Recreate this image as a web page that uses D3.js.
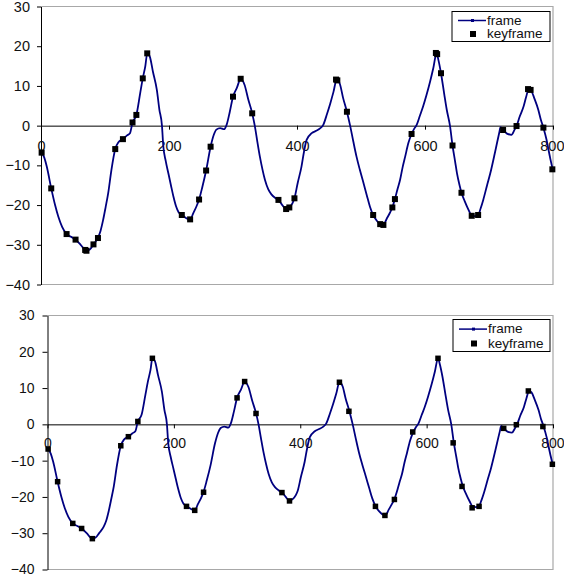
<!DOCTYPE html>
<html>
<head>
<meta charset="utf-8">
<script src="https://cdn.jsdelivr.net/npm/d3@7"></script>
<style>
  body { margin: 0; background: #fff; }
  svg { display: block; }
  text { font-family: "Liberation Sans", Arial, sans-serif; fill: #111; }
</style>
</head>
<body>
<div id="vis"></div>
<script>
var width = 564;
var height = 579;

// frame series
var frameX = [0, 5, 9, 16, 22, 27, 33, 40, 47, 54, 62, 70, 76, 82, 89, 93, 97, 101, 105, 110,
  116, 121, 128, 134, 139, 143, 149, 155, 159, 163, 166, 170, 175, 181, 185, 189, 191, 195, 199, 203,
  207, 211, 215, 220, 226, 233, 238, 243, 247, 252, 258, 265, 270, 274, 280, 286, 290, 295, 300, 306,
  312, 318, 324, 330, 334, 338, 342, 346, 350, 355, 360, 366, 371, 377, 383, 388, 393, 396, 401, 407,
  411, 415, 423, 430, 436, 441, 447, 452, 457, 462, 467, 472, 478, 483, 488, 493, 498, 504, 509, 514,
  519, 525, 530, 535, 540, 545, 549, 553, 557, 561, 565, 569, 574, 579, 583, 587, 592, 597, 602, 608,
  613, 618, 621, 625, 630, 634, 639, 643, 647, 650, 654, 657, 662, 668, 673, 678, 683, 687, 691, 697,
  702, 709, 713, 716, 718, 722, 728, 735, 740, 743, 748, 754, 758, 762, 766, 771, 777, 781, 785, 790,
  793, 796, 800];
var frameY = [-6.5, -8, -10.3, -15.8, -20, -22.9, -25.5, -27.3, -28, -28.7, -30, -31.4, -31.2, -29.9, -28.2, -26.5, -23.8, -20.5, -17, -11.2,
  -5.9, -4.2, -3.4, -2.5, -1.9, 0.8, 2.7, 8.2, 11.9, 15, 18.2, 17.4, 13.5, 9, 4, 0, -5, -9, -12, -15,
  -17.9, -20.3, -21.8, -22.5, -23.2, -23.7, -22, -20.3, -18.6, -15.5, -11.3, -5.3, -2.3, -1, -0.6, -0.9, 0.2, 3.5, 7.3, 9.5,
  11.8, 10.3, 6.5, 3.1, 0, -4, -7.8, -11, -13.7, -16, -17.3, -18.2, -18.7, -20, -21, -20.6, -19.5, -18.3, -14.5, -10.3,
  -6.5, -3.6, -1.9, -1.3, -0.7, 0.2, 3, 5.6, 8.5, 11.6, 10.5, 7, 3.5, 0, -4, -7.8, -11, -14.5, -17.5, -20.4,
  -22.5, -24, -24.8, -25, -23.5, -22, -20.6, -18.5, -16, -13.7, -10.5, -7.8, -4.4, -2.1, -0.8, 0.2, 2.5, 4.8, 7.5, 11.1,
  14.5, 18.2, 16.5, 13.2, 8, 4, 0, -5, -9, -12, -15, -16.9, -19, -21.2, -22.7, -22.8, -22.5, -20.8, -18.7, -15,
  -12, -7, -4, -1.8, -0.4, -1.1, -2, -2.3, -1, -0.1, 2.3, 4.8, 7.2, 9.2, 8.8, 6.8, 4, 1.5, -0.5, -3.6,
  -6.1, -8.5, -11.3];

// keyframes, upper chart
var keyTopX = [1, 16, 40, 54, 69, 71, 82, 89, 116, 128, 143, 149, 159, 166, 220, 233, 247, 258, 265, 300,
  312, 330, 371, 383, 388, 396, 461, 463, 478, 519, 530, 535, 549, 553, 579, 617, 619, 625, 643, 657,
  673, 683, 722, 743, 761, 765, 785, 799];
var keyTopY = [-6.8, -15.8, -27.3, -28.7, -31.3, -31.5, -29.9, -28.3, -5.9, -3.4, 0.8, 2.7, 11.9, 18.2, -22.5, -23.6, -18.6, -11.3, -5.3, 7.3,
  11.8, 3.1, -18.7, -21, -20.6, -18.3, 11.6, 11.4, 3.5, -22.5, -24.8, -25, -20.6, -18.5, -2.1, 18.3, 18.0, 13.2, -5, -16.9,
  -22.7, -22.5, -1.1, -0.1, 9.2, 9.0, -0.5, -11];

// keyframes, lower chart
var keyBotX = [1, 16, 40, 54, 71, 116, 128, 143, 166, 220, 233, 247, 300, 312, 330, 371, 383, 462, 477, 519,
  534, 549, 578, 618, 642, 656, 672, 683, 722, 742, 761, 784, 799];
var keyBotY = [-6.8, -15.8, -27.3, -28.7, -31.5, -5.9, -3.4, 0.8, 18.2, -22.6, -23.7, -18.7, 7.3, 11.8, 3.0, -18.8, -21.1, 11.6, 3.6, -22.6,
  -25.1, -20.7, -2.1, 18.2, -5.1, -17.1, -23, -22.6, -1.1, -0.1, 9.2, -0.6, -11];

var xTicks = [0, 200, 400, 600, 800];
var yTicks = [-40, -30, -20, -10, 0, 10, 20, 30];
var seriesNames = ["frame", "keyframe"];

var svg = d3.select("#vis").append("svg")
    .attr("width", width)
    .attr("height", height);

function drawChart(cfg, keyX, keyY) {
    var g = svg.append("g");

    var xscale = d3.scaleLinear().domain([0, 800]).range([cfg.left, cfg.right]);
    var yscale = d3.scaleLinear().domain([-40, 30]).range([cfg.bottom, cfg.top]);

    // grey plot border (top, right, bottom)
    g.append("path")
        .attr("d", "M" + cfg.left + "," + cfg.top + "H" + cfg.right + "V" + cfg.bottom + "H" + cfg.left)
        .attr("fill", "none")
        .attr("stroke", "#a8a8a8")
        .attr("stroke-width", 1.2);

    // y axis
    var y_axis = d3.axisLeft(yscale)
        .tickValues(yTicks)
        .tickSize(cfg.ytick)
        .tickSizeOuter(0)
        .tickPadding(cfg.ypad);
    var ya = g.append("g")
        .attr("transform", "translate(" + cfg.left + ",0)")
        .call(y_axis);
    ya.selectAll("text").style("font-size", cfg.font + "px");

    // x axis through zero
    var x_axis = d3.axisBottom(xscale)
        .tickValues(xTicks)
        .tickSize(4)
        .tickSizeOuter(0)
        .tickPadding(cfg.xpad);
    var xa = g.append("g")
        .attr("transform", "translate(0," + yscale(0) + ")")
        .call(x_axis);
    xa.selectAll("text").style("font-size", cfg.font + "px");
    // last label sits against the right edge, as in the original
    xa.selectAll(".tick text").filter(function(d){ return d === 800; })
        .attr("text-anchor", "end").attr("x", 11);
    g.selectAll(".domain, .tick line").attr("stroke", "#000");

    // frame line
    var line = d3.line()
        .x(function(d){ return xscale(d[0]); })
        .y(function(d){ return yscale(d[1]); })
        .curve(d3.curveMonotoneX);
    var pts = frameX.map(function(x, i){ return [x, frameY[i]]; });
    g.append("path")
        .datum(pts)
        .attr("d", line)
        .attr("fill", "none")
        .attr("stroke", "#000080")
        .attr("stroke-width", 1.8);

    // keyframe markers
    var s = cfg.marker;
    g.selectAll(".key")
        .data(keyX.map(function(x, i){ return [x, keyY[i]]; }))
        .enter().append("rect")
        .attr("class", "key")
        .attr("x", function(d){ return xscale(d[0]) - s / 2; })
        .attr("y", function(d){ return yscale(d[1]) - s / 2; })
        .attr("width", s)
        .attr("height", s)
        .attr("fill", "#000");

    // legend
    var lg = g.append("g").attr("transform", "translate(" + cfg.lx + "," + cfg.ly + ")");
    lg.append("rect")
        .attr("width", cfg.lw).attr("height", cfg.lh)
        .attr("fill", "#fff")
        .attr("stroke", "#000")
        .attr("stroke-width", 1);
    var row1 = cfg.lh * 0.3, row2 = cfg.lh * 0.75;
    lg.append("line")
        .attr("x1", 6).attr("x2", 34)
        .attr("y1", row1).attr("y2", row1)
        .attr("stroke", "#000080").attr("stroke-width", 1.5);
    lg.append("rect")
        .attr("x", 19).attr("y", row1 - 1.5).attr("width", 3).attr("height", 3)
        .attr("fill", "#000080");
    lg.append("rect")
        .attr("x", 18).attr("y", row2 - 3).attr("width", 6).attr("height", 6)
        .attr("fill", "#000");
    lg.selectAll(".ltxt")
        .data(seriesNames)
        .enter().append("text")
        .attr("class", "ltxt")
        .attr("x", 35)
        .attr("y", function(d, i){ return i === 0 ? row1 : row2; })
        .attr("dy", "0.32em")
        .style("font-size", "13.5px")
        .text(function(d){ return d; });
}

drawChart({left: 41, right: 553, top: 6.5, bottom: 284.5, ytick: 4, ypad: 7, xpad: 11,
    font: 14.5, marker: 6, lx: 452, ly: 11.5, lw: 98, lh: 30}, keyTopX, keyTopY);
drawChart({left: 47.5, right: 553, top: 315.5, bottom: 569.5, ytick: 5, ypad: 8, xpad: 10,
    font: 14, marker: 5.5, lx: 453, ly: 319.5, lw: 97, lh: 32}, keyBotX, keyBotY);
</script>
</body>
</html>
